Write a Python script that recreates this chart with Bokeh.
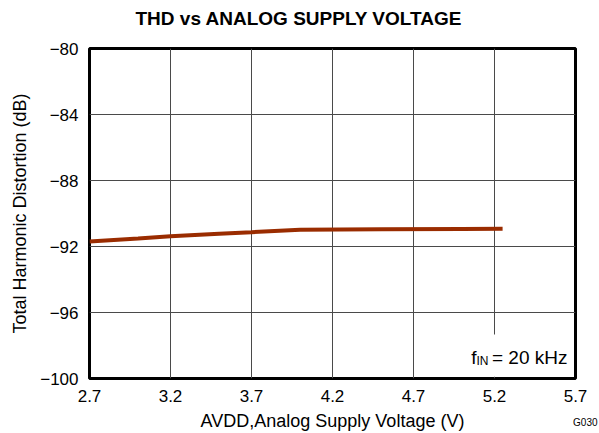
from bokeh.plotting import figure
from bokeh.models import FixedTicker, Label, BoxAnnotation, Range1d, Title
from bokeh.embed import file_html
from bokeh.resources import INLINE

# ---- data ----
supply_v = [2.7, 3.0, 3.2, 3.5, 3.7, 4.0, 4.5, 5.0, 5.25]
thd_db = [-91.7, -91.52, -91.38, -91.22, -91.13, -90.98, -90.96, -90.94, -90.93]
x_ticks = [2.7, 3.2, 3.7, 4.2, 4.7, 5.2, 5.7]
y_ticks = [-100, -96, -92, -88, -84, -80]
y_tick_labels = ["−100", "−96", "−92", "−88", "−84", "−80"]

title_text = "THD vs ANALOG SUPPLY VOLTAGE"
x_title = "AVDD,Analog Supply Voltage (V)"
y_title = "Total Harmonic Distortion (dB)"
fig_id = "G030"
FONT = "Liberation Sans"

p = figure(width=599, height=433, output_backend="svg", toolbar_location=None,
           x_range=Range1d(2.7, 5.7), y_range=Range1d(-100, -80),
           min_border_left=89, min_border_right=24, min_border_top=48,
           min_border_bottom=55)
p.title = None
p.background_fill_color = "white"
p.border_fill_color = "white"
p.outline_line_color = "black"
p.outline_line_width = 3

# axes
for ax in (p.xaxis[0], p.yaxis[0]):
    ax.axis_line_color = None
    ax.major_tick_line_color = None
    ax.minor_tick_line_color = None
    ax.major_tick_out = 0
    ax.major_tick_in = 0
    ax.minor_tick_out = 0
    ax.minor_tick_in = 0
    ax.major_label_text_font = FONT
    ax.major_label_text_font_size = "17px"
    ax.major_label_text_color = "black"
    ax.axis_label_text_font = FONT
    ax.axis_label_text_font_size = "18px"
    ax.axis_label_text_font_style = "normal"
    ax.axis_label_text_color = "black"

p.xaxis.ticker = FixedTicker(ticks=x_ticks)
p.yaxis.ticker = FixedTicker(ticks=y_ticks)
p.yaxis.major_label_overrides = {t: s for t, s in zip(y_ticks, y_tick_labels)}
p.xaxis.axis_label = x_title
p.yaxis.axis_label = y_title
p.xaxis.major_label_standoff = 11
p.xaxis.axis_label_standoff = 6
p.yaxis.major_label_standoff = 11
p.yaxis.axis_label_standoff = 7

p.grid.grid_line_color = "#4a4a4a"
p.grid.grid_line_width = 1
p.xgrid.ticker = FixedTicker(ticks=x_ticks)
p.ygrid.ticker = FixedTicker(ticks=y_ticks)

# data line
p.line(supply_v, thd_db, line_color="#9a2c00", line_width=4)

# white box behind annotation
p.add_layout(BoxAnnotation(left=4.95, right=5.685, bottom=-99.9, top=-97.33,
                           fill_color="white", fill_alpha=1.0, line_color=None))

# annotation f_IN = 20 kHz
p.add_layout(Label(x=5.7, y=-100, x_offset=-8, y_offset=21, text="= 20 kHz",
                   text_align="right", text_baseline="alphabetic",
                   text_font=FONT, text_font_size="19px", text_color="black"))
p.add_layout(Label(x=5.7, y=-100, x_offset=-87, y_offset=18, text="IN",
                   text_align="right", text_baseline="alphabetic",
                   text_font=FONT, text_font_size="12px", text_color="black"))
p.add_layout(Label(x=5.7, y=-100, x_offset=-99, y_offset=21, text="f",
                   text_align="right", text_baseline="alphabetic",
                   text_font=FONT, text_font_size="19px", text_color="black"))

# title (a small blank spacer title sits between it and the frame)
p.add_layout(Title(text=" ", text_font_size="4px", standoff=8), "above")
p.add_layout(Title(text=title_text, align="left", offset=46, standoff=10,
                   text_font=FONT, text_font_size="19px", text_font_style="bold",
                   text_color="black"), "above")

# figure id, bottom right
p.add_layout(Title(text=fig_id, align="right", offset=-22, standoff=-33,
                   vertical_align="top",
                   text_font=FONT, text_font_size="10px", text_font_style="normal",
                   text_color="black"), "below")

open("out.html", "w").write(file_html(p, INLINE))
